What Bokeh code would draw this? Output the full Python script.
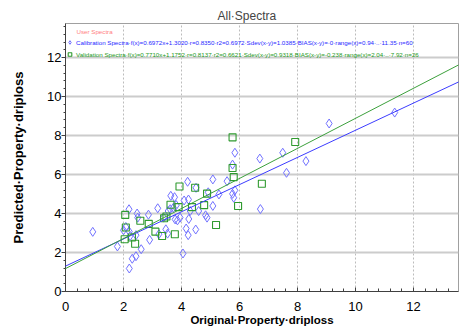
from bokeh.plotting import figure
from bokeh.models import Range1d, Legend, LegendItem, Label, Slope, FixedTicker
from bokeh.embed import file_html
from bokeh.resources import INLINE

# Calibration spectra (original, predicted)
cal_x = [0.94, 1.79, 2.00, 2.08, 2.19, 2.20, 2.23, 2.20, 2.30, 2.43,
         2.43, 2.47, 2.49, 2.61, 2.86, 2.90, 3.18, 3.22, 3.38, 3.46,
         3.52, 3.54, 3.61, 3.63, 3.72, 3.76, 3.78, 3.82, 3.86, 3.95,
         4.05, 4.09, 4.16, 4.21, 4.24, 4.25, 4.23, 4.30, 4.49, 4.50,
         4.59, 4.83, 4.88, 4.92, 5.08, 5.08, 5.29, 5.57, 5.76, 5.76,
         5.80, 5.84, 5.84, 6.70, 6.72, 7.49, 7.62, 8.29, 9.09, 11.35]
cal_y = [3.06, 2.31, 3.14, 3.31, 4.22, 3.07, 2.85, 1.18, 1.68, 1.81,
         2.89, 4.00, 3.79, 2.17, 3.94, 2.65, 4.27, 2.94, 3.79, 3.19,
         2.97, 4.13, 4.22, 4.91, 4.30, 4.84, 3.70, 4.43, 3.65, 3.79,
         1.95, 4.67, 3.23, 5.63, 4.72, 3.72, 2.89, 4.13, 3.18, 5.32,
         4.13, 3.91, 3.79, 5.09, 5.75, 4.39, 4.98, 5.66, 6.51, 5.01,
         4.81, 5.19, 7.12, 6.82, 4.23, 7.12, 6.09, 6.69, 8.62, 9.18]

# Validation spectra (original, predicted)
val_x = [2.06, 2.08, 2.04, 2.29, 2.40, 2.58, 2.87, 3.10, 3.33, 3.48,
         3.62, 3.77, 3.90, 3.93, 4.36, 4.47, 4.78, 4.88, 5.19, 5.76,
         5.76, 5.80, 5.95, 6.77, 7.92, 3.40]
val_y = [3.93, 3.28, 2.68, 2.77, 2.45, 3.63, 3.47, 3.07, 2.85, 3.85,
         4.45, 2.94, 4.33, 5.39, 4.33, 5.32, 4.43, 5.02, 3.41, 7.91,
         6.34, 5.87, 4.39, 5.53, 7.67, 3.76]

# Regression lines f(x) = slope*x + intercept
cal_fit = (0.6972, 1.3020)
val_fit = (0.7710, 1.1752)

x_ticks = [0, 2, 4, 6, 8, 10, 12]
y_ticks = [0, 2, 4, 6, 8, 10, 12]

cal_label = ("Calibration Spectra·f(x)=0.6972x+1.3020·r=0.8350·r2=0.6972·"
             "Sdev(x-y)=1.0385·BIAS(x-y)=·0·range(x)=0.94·..·11.35·n=60")
val_label = ("Validation Spectra·f(x)=0.7710x+1.1752·r=0.8137·r2=0.6621·"
             "Sdev(x-y)=0.9318·BIAS(x-y)=-0.238·range(x)=2.04·..·7.92·n=26")

FONT = "Liberation Sans"
LEG_SIZE = "6.2px"

p = figure(width=466, height=328, output_backend="svg", toolbar_location=None,
           x_range=Range1d(0, 13.55), y_range=Range1d(0, 13.75),
           min_border_left=65, min_border_right=8, min_border_top=23,
           min_border_bottom=37, background_fill_color="white",
           border_fill_color="white")

p.title.text = "All·Spectra"
p.title.align = "left"
p.title.offset = 152
p.title.text_font = FONT
p.title.text_font_style = "normal"
p.title.text_font_size = "12px"
p.title.standoff = 2

p.outline_line_color = "#a0a0a0"
p.outline_line_width = 1

# grids
p.xgrid.ticker = x_ticks[1:]
p.ygrid.ticker = y_ticks[1:]
p.xgrid.grid_line_color = "#bcbcbc"
p.xgrid.grid_line_dash = "2 2"
p.xgrid.grid_line_width = 1
p.ygrid.grid_line_color = "#cccccc"
p.ygrid.grid_line_width = 2

# axes
for ax in (p.xaxis, p.yaxis):
    ax.axis_line_color = "#404040"
    ax.major_tick_line_color = "#404040"
    ax.minor_tick_line_color = "#404040"
    ax.major_label_text_font = FONT
    ax.major_label_text_font_size = "13px"
    ax.major_label_text_color = "black"
    ax.axis_label_text_font = FONT
    ax.axis_label_text_font_style = "bold"
    ax.axis_label_text_color = "black"

p.xaxis.ticker = FixedTicker(ticks=x_ticks,
                             minor_ticks=[i * 0.4 for i in range(0, 34)])
p.yaxis.ticker = FixedTicker(ticks=y_ticks,
                             minor_ticks=[i * 0.4 for i in range(0, 35)])

p.xaxis.major_tick_in = 4
p.xaxis.major_tick_out = 0
p.xaxis.minor_tick_in = 3
p.xaxis.minor_tick_out = 0
p.xaxis.major_label_standoff = 10
p.xaxis.axis_label = "Original·Property·driploss"
p.xaxis.axis_label_text_font_size = "11.5px"
p.xaxis.axis_label_standoff = 0

p.yaxis.major_tick_in = 0
p.yaxis.major_tick_out = 4
p.yaxis.minor_tick_in = 0
p.yaxis.minor_tick_out = 2
p.yaxis.major_label_standoff = 0
p.yaxis.axis_label = "Predicted·Property·driploss"
p.yaxis.axis_label_text_font_size = "13px"
p.yaxis.axis_label_standoff = 18

# regression lines
p.add_layout(Slope(gradient=cal_fit[0], y_intercept=cal_fit[1],
                   line_color="#3c3cff", line_width=1))
p.add_layout(Slope(gradient=val_fit[0], y_intercept=val_fit[1],
                   line_color="#3ca03c", line_width=1))

cal = p.scatter(cal_x, cal_y, marker="diamond", size=9, fill_alpha=0,
                line_color="#7272ff", line_width=1)
val = p.scatter(val_x, val_y, marker="square", size=7, fill_alpha=0,
                line_color="#2f9a2f", line_width=1.1)


def make_legend(item_label, rend, color, y):
    return Legend(items=[LegendItem(label=item_label, renderers=[rend])],
                  location=(0, y), orientation="vertical",
                  background_fill_alpha=0, border_line_alpha=0,
                  padding=0, margin=0, spacing=0,
                  glyph_width=9, glyph_height=10, label_height=10,
                  label_standoff=2,
                  label_text_font=FONT, label_text_font_size=LEG_SIZE,
                  label_text_color=color, label_text_baseline="middle")


p.add_layout(make_legend(cal_label, cal, "#2828ff", 244))
p.add_layout(make_legend(val_label, val, "#229922", 232))

p.add_layout(Label(x=11, y=260, x_units="screen", y_units="screen",
                   text="User Spectra", text_color="#ff8080",
                   text_font=FONT, text_font_size=LEG_SIZE,
                   text_baseline="middle"))

open("out.html", "w").write(file_html(p, INLINE))
